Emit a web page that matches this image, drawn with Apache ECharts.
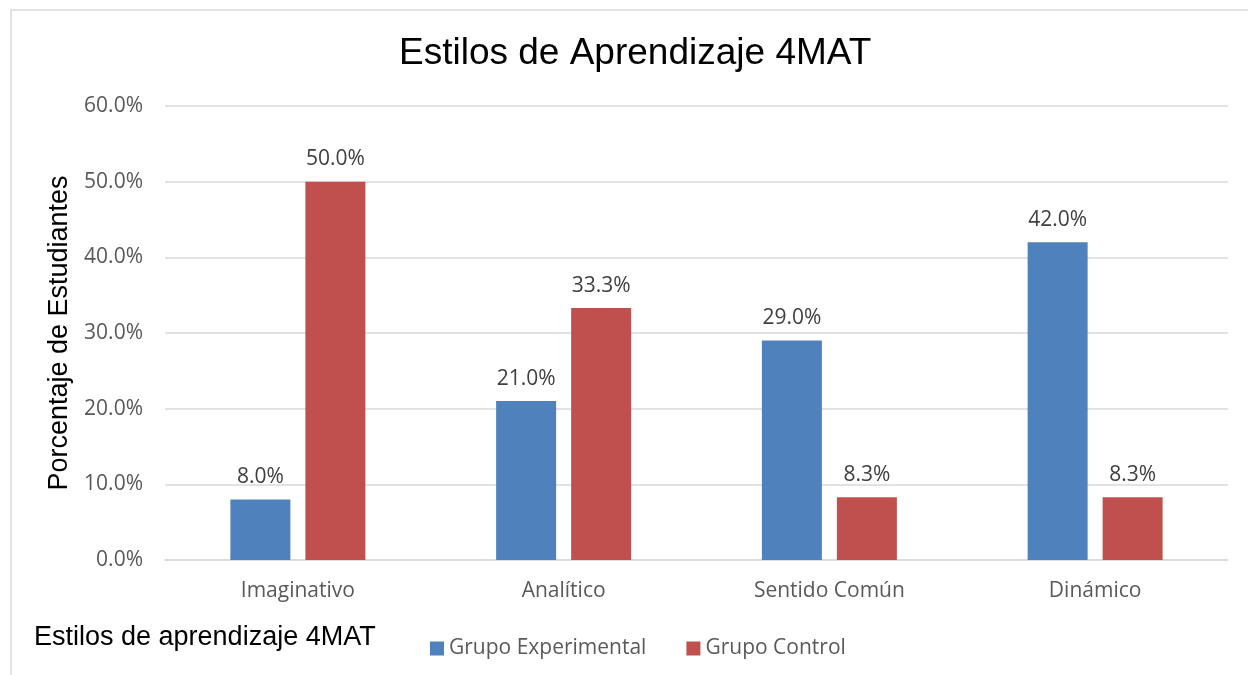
<!DOCTYPE html>
<html>
<head>
<meta charset="utf-8">
<script src="https://cdn.jsdelivr.net/npm/echarts@6/dist/echarts.min.js"></script>
<style>
  html, body { margin: 0; padding: 0; background: #fff; }
  #chart { width: 1248px; height: 675px; }
</style>
</head>
<body>
<div id="chart"></div>
<script>
var categories = ['Imaginativo', 'Analítico', 'Sentido Común', 'Dinámico'];
var grupoExperimental = [8.0, 21.0, 29.0, 42.0];
var grupoControl = [50.0, 33.3, 8.3, 8.3];
var seriesNames = ['Grupo Experimental', 'Grupo Control'];

function initChart() {
    var myChart = echarts.init(document.getElementById('chart'));
    var labelFont = '"Open Sans", "DejaVu Sans", sans-serif';
    var option = {
        backgroundColor: '#fff',
        animation: false,
        title: [{
            text: 'Estilos de Aprendizaje 4MAT',
            left: 394,
            top: 30,
            textStyle: {
                fontFamily: '"Liberation Sans", Arial, sans-serif',
                fontSize: 37,
                fontWeight: 'normal',
                color: '#000'
            }
        }, {
            text: 'Estilos de aprendizaje 4MAT',
            left: 29,
            top: 619,
            textStyle: {
                fontFamily: '"Liberation Sans", Arial, sans-serif',
                fontSize: 27,
                fontWeight: 'normal',
                color: '#000'
            }
        }],
        graphic: [{
            type: 'rect',
            shape: { x: 11, y: 10, width: 1250, height: 680 },
            style: { fill: 'none', stroke: '#d9d9d9', lineWidth: 1.5 },
            silent: true
        }],
        legend: {
            data: seriesNames,
            left: 425,
            top: 633,
            itemWidth: 14,
            itemHeight: 14,
            itemGap: 40,
            icon: 'rect',
            textStyle: {
                fontFamily: labelFont,
                fontSize: 21,
                color: '#595959'
            }
        },
        grid: {
            left: 165,
            right: 20,
            top: 106,
            bottom: 115,
            containLabel: false
        },
        xAxis: {
            type: 'category',
            data: categories,
            axisTick: { show: false },
            axisLine: { lineStyle: { color: '#d9d9d9', width: 1.5 } },
            axisLabel: {
                margin: 21,
                fontFamily: labelFont,
                fontSize: 21,
                color: '#595959'
            }
        },
        yAxis: {
            type: 'value',
            min: 0,
            max: 60,
            interval: 10,
            name: 'Porcentaje de Estudiantes',
            nameLocation: 'middle',
            nameGap: 90,
            nameTextStyle: {
                fontFamily: '"Liberation Sans", Arial, sans-serif',
                fontSize: 27,
                color: '#000'
            },
            axisLine: { show: false },
            axisTick: { show: false },
            splitLine: { lineStyle: { color: '#d9d9d9', width: 1.5 } },
            axisLabel: {
                margin: 22,
                fontFamily: labelFont,
                fontSize: 21,
                color: '#595959',
                formatter: function (v) { return v.toFixed(1) + '%'; }
            }
        },
        series: [{
            name: seriesNames[0],
            type: 'bar',
            data: grupoExperimental,
            barWidth: 60,
            barGap: '25%',
            itemStyle: { color: '#4F81BD' },
            label: {
                show: true,
                position: 'top',
                distance: 12,
                fontFamily: labelFont,
                fontSize: 21,
                color: '#404040',
                formatter: function (p) { return p.value.toFixed(1) + '%'; }
            }
        }, {
            name: seriesNames[1],
            type: 'bar',
            data: grupoControl,
            barWidth: 60,
            barGap: '25%',
            itemStyle: { color: '#C0504D' },
            label: {
                show: true,
                position: 'top',
                distance: 12,
                fontFamily: labelFont,
                fontSize: 21,
                color: '#404040',
                formatter: function (p) { return p.value.toFixed(1) + '%'; }
            }
        }]
    };
    myChart.setOption(option);
}
initChart();
</script>
</body>
</html>
